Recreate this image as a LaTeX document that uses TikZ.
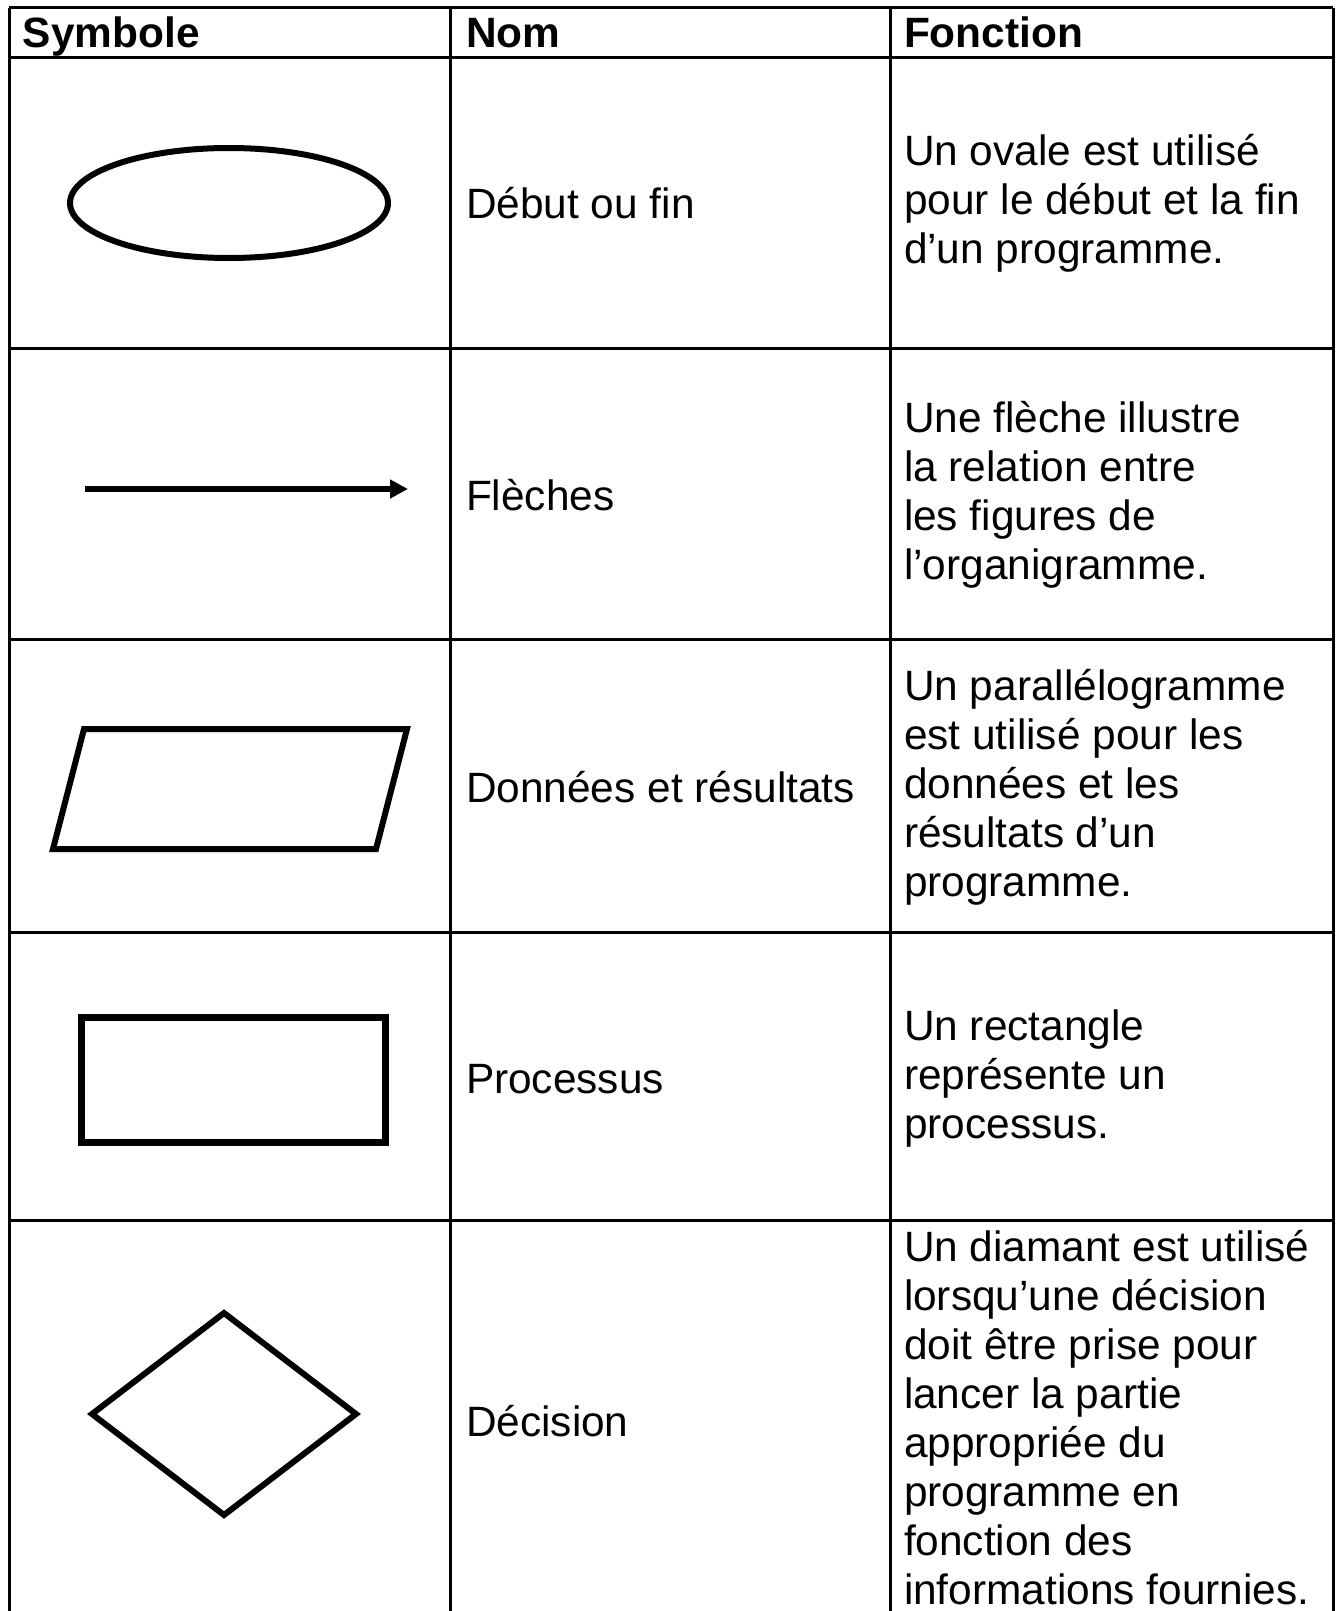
\documentclass[tikz,border=0pt]{standalone}
\usepackage{fontspec}
\setmainfont{Liberation Sans}
\usetikzlibrary{shapes.geometric,arrows.meta}

\begin{document}
\begin{tikzpicture}[
				x = 0.5pt, y = -0.5pt,
				every node/.style = {inner sep = 0pt, outer sep = 0pt},
				grille/.style = {line width = 1.5pt},
				forme/.style = {draw, line width = 3pt},
				entete/.style = {anchor = base west, font = \fontsize{21.2pt}{24.5pt}\selectfont\bfseries},
				texte/.style = {anchor = west, align = left, font = \fontsize{21.2pt}{24.5pt}\selectfont},
				fleche/.style = {line width = 2.8pt, -{Triangle[length=9pt,width=9pt]}}
				]
				\useasboundingbox (0,0) rectangle (1335,1611);
				% grille du tableau
				\foreach \y in {8,58,348,639,932,1220}
					\draw [grille] (9,\y) -- (1333,\y);
				\foreach \x in {9,450,890,1333}
					\draw [grille] (\x,8) -- (\x,1611);
				
				% en-tete
				\node [entete] (h-symb) at (23,48) {Symbole};
				\node [entete] (h-nom) at (466,48) {Nom};
				\node [entete] (h-fonc) at (904,48) {Fonction};
				
				% symboles
				\node [forme, ellipse, minimum width = 159pt, minimum height = 55pt] (ovale) at (229,203) {};
				\coordinate (fl-a) at (85,489);
				\coordinate (fl-b) at (408,489);
				\draw [fleche] (fl-a) -- (fl-b);
				\draw [forme, line join = miter] (84,729) -- (407,729) -- (376,849) -- (53,849) -- cycle;
				\node [forme, line width = 3.5pt, rectangle, minimum width = 152pt, minimum height = 62.5pt] (rect) at (233,1080) {};
				\node [forme, diamond, minimum width = 132pt, minimum height = 101pt] (losange) at (224,1414) {};
				
				% noms
				\node [texte] (n-debut) at (466,203) {Début ou fin};
				\node [texte] (n-fleche) at (466,495) {Flèches};
				\node [texte] (n-donnees) at (466,787) {Données et résultats};
				\node [texte] (n-proc) at (466,1079) {Processus};
				\node [texte] (n-dec) at (466,1421) {Décision};
				
				% fonctions
				\node [texte] (f-debut) at (904,203) {Un ovale est utilisé\\pour le début et la fin\\d’un programme.};
				\node [texte] (f-fleche) at (904,495) {Une flèche illustre\\la relation entre\\les figures de\\l’organigramme.};
				\node [texte] (f-donnees) at (904,787) {Un parallélogramme\\est utilisé pour les\\données et les\\résultats d’un\\programme.};
				\node [texte] (f-proc) at (904,1079) {Un rectangle\\représente un\\processus.};
				\node [texte] (f-dec) at (904,1418) {Un diamant est utilisé\\lorsqu’une décision\\doit être prise pour\\lancer la partie\\appropriée du\\programme en\\fonction des\\informations fournies.};
			\end{tikzpicture}
\end{document}
